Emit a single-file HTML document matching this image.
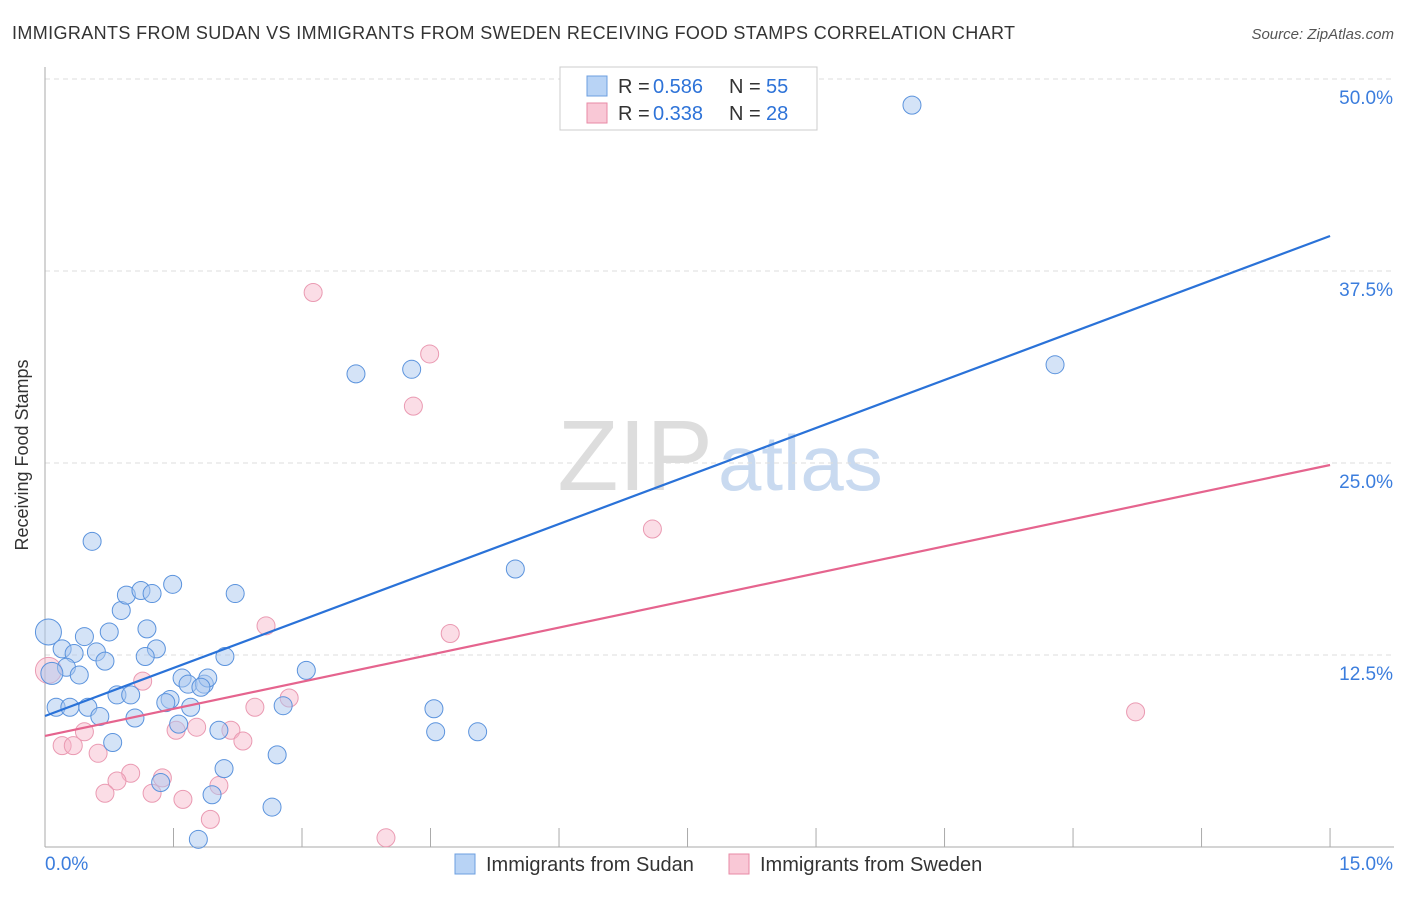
<!DOCTYPE html>
<html><head><meta charset="utf-8"><style>
body{margin:0;background:#fff;font-family:"Liberation Sans",sans-serif}
svg text{font-family:"Liberation Sans",sans-serif}
</style></head><body>
<svg id="c" width="1406" height="892">
<text x="12" y="39" font-size="18" fill="#333" textLength="1003">IMMIGRANTS FROM SUDAN VS IMMIGRANTS FROM SWEDEN RECEIVING FOOD STAMPS CORRELATION CHART</text>
<text x="1394" y="39" font-size="15" fill="#555" font-style="italic" text-anchor="end">Source: ZipAtlas.com</text>
<text x="28" y="455" font-size="18" fill="#333" text-anchor="middle" transform="rotate(-90 28 455)">Receiving Food Stamps</text>
<text x="713" y="490" font-size="100" fill="#ddd" text-anchor="end" font-family="Liberation Serif">ZIP</text>
<text x="718" y="490" font-size="78" fill="#c9daf0">atlas</text>
<g id="grid"></g><g id="pts"></g><g id="lines"></g>
<g>
<rect x="560" y="67" width="257" height="63" fill="#fff" stroke="#ccc"/>
<rect x="587" y="76" width="20" height="20" fill="#b8d3f5" stroke="#6c9fe0"/>
<rect x="587" y="103" width="20" height="20" fill="#f9c8d6" stroke="#e88aa6"/>
<text x="618" y="93" font-size="20" fill="#333">R = </text><text x="653" y="93" font-size="20" fill="#2e73d8">0.586</text>
<text x="729" y="93" font-size="20" fill="#333">N = </text><text x="766" y="93" font-size="20" fill="#2e73d8">55</text>
<text x="618" y="120" font-size="20" fill="#333">R = </text><text x="653" y="120" font-size="20" fill="#2e73d8">0.338</text>
<text x="729" y="120" font-size="20" fill="#333">N = </text><text x="766" y="120" font-size="20" fill="#2e73d8">28</text>
</g>
<g>
<rect x="455" y="854" width="20" height="20" fill="#b8d3f5" stroke="#6c9fe0"/>
<text x="486" y="871" font-size="20" fill="#333">Immigrants from Sudan</text>
<rect x="729" y="854" width="20" height="20" fill="#f9c8d6" stroke="#e88aa6"/>
<text x="760" y="871" font-size="20" fill="#333">Immigrants from Sweden</text>
</g>
</svg>
<script>
const yTicks=[12.5,25,37.5,50];
const yTickLabels=["12.5%","25.0%","37.5%","50.0%"];
const sudanX=[10.12,11.79,3.63,4.28,5.49,0.55,0.04,0.20,0.46,0.75,0.89,0.95,1.12,1.25,1.49,2.22,1.19,1.30,0.34,0.60,0.70,0.25,0.08,0.40,1.17,2.10,3.05,1.60,1.67,1.86,1.90,1.82,1.46,1.41,0.13,0.29,0.50,0.64,0.84,1.00,1.05,1.56,1.70,2.03,2.78,4.54,4.56,5.05,0.79,2.09,1.35,1.95,2.65,1.79,2.71];
const sudanY=[48.3,31.4,30.8,31.1,18.1,19.9,14.0,12.9,13.7,14.0,15.4,16.4,16.7,16.5,17.1,16.5,14.2,12.9,12.6,12.7,12.1,11.7,11.3,11.2,12.4,12.4,11.5,11.0,10.6,10.6,11.0,10.4,9.6,9.4,9.1,9.1,9.1,8.5,9.9,9.9,8.4,8.0,9.1,7.6,9.2,9.0,7.5,7.5,6.8,5.1,4.2,3.4,2.6,0.5,6.0];
const swedenX=[3.13,4.49,4.30,7.09,4.73,2.58,12.73,0.04,1.14,2.85,2.45,2.17,1.53,1.77,0.46,0.20,0.33,0.62,2.31,1.00,0.84,1.37,0.70,1.25,1.61,2.03,1.93,3.98];
const swedenY=[36.1,32.1,28.7,20.7,13.9,14.4,8.8,11.5,10.8,9.7,9.1,7.6,7.6,7.8,7.5,6.6,6.6,6.1,6.9,4.8,4.3,4.5,3.5,3.5,3.1,4.0,1.8,0.6];
const sudanSize=[9,9,9,9,9,9,13,9,9,9,9,9,9,9,9,9,9,9,9,9,9,9,11,9,9,9,9,9,9,9,9,9,9,9,9,9,9,9,9,9,9,9,9,9,9,9,9,9,9,9,9,9,9,9,9];
const trendSudan=[8.53,39.78];
const trendSweden=[7.23,24.87];
const X=v=>45+v*85.67, Y=v=>847-v*15.36;
const NS="http://www.w3.org/2000/svg";
function mk(t,a,p){const e=document.createElementNS(NS,t);for(const k in a)e.setAttribute(k,a[k]);p.appendChild(e);return e;}
const g=document.getElementById('grid');
yTicks.forEach((t,i)=>{
 const l=mk('line',{x1:45,x2:1394,y1:Y(t),y2:Y(t),stroke:'#ddd','stroke-dasharray':'5,4'},g);
 
 
 const tx=mk('text',{x:1393,y:Y(t)+25,'font-size':19,fill:'#3b7ddd','text-anchor':'end'},g);tx.textContent=yTickLabels[i];
 
 
});
mk('line',{x1:45,x2:45,y1:67,y2:847,stroke:'#aaa'},g);
mk('line',{x1:45,x2:1394,y1:847,y2:847,stroke:'#aaa'},g);
for(let i=1;i<=10;i++){mk('line',{x1:X(i*1.5),x2:X(i*1.5),y1:828,y2:847,stroke:'#aaa'},g);}
let t0=mk('text',{x:45,y:870,'font-size':19,fill:'#3b7ddd'},g);t0.textContent="0.0%";


let t1=mk('text',{x:1393,y:870,'font-size':19,fill:'#3b7ddd','text-anchor':'end'},g);t1.textContent="15.0%";


const p=document.getElementById('pts');
swedenX.forEach((x,i)=>{const c=mk('circle',{cx:X(x),cy:Y(swedenY[i]),r:i==7?13:9,fill:'rgba(247,180,200,0.45)',stroke:'#ea9ab2','stroke-width':1},p);
 
 });
sudanX.forEach((x,i)=>{const c=mk('circle',{cx:X(x),cy:Y(sudanY[i]),r:sudanSize[i],fill:'rgba(170,200,240,0.5)',stroke:'#5b93dd','stroke-width':1},p);
 
 });
const L=document.getElementById('lines');
const a=mk('line',{x1:X(0),x2:X(15),y1:Y(trendSudan[0]),y2:Y(trendSudan[1]),stroke:'#2a72d8','stroke-width':2.2},L);


const b=mk('line',{x1:X(0),x2:X(15),y1:Y(trendSweden[0]),y2:Y(trendSweden[1]),stroke:'#e5648e','stroke-width':2.2},L);


</script>
</body></html>
